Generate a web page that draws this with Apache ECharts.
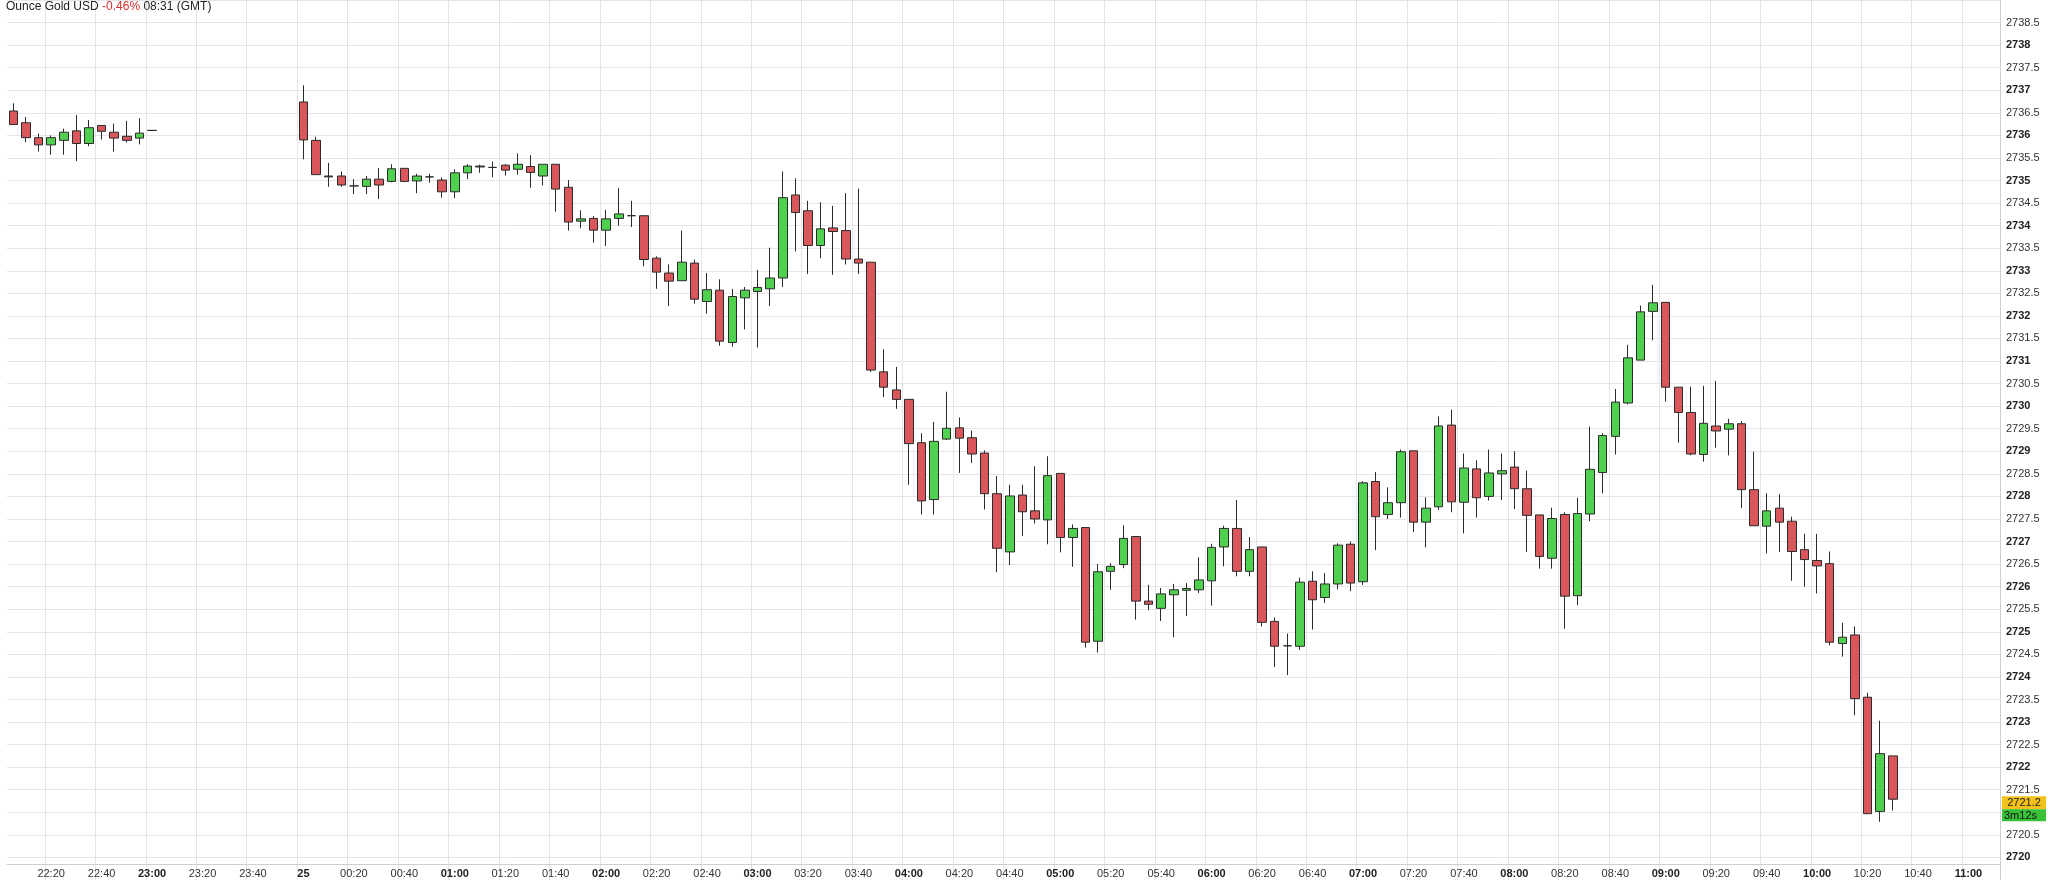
<!DOCTYPE html>
<html><head><meta charset="utf-8">
<script src="https://cdn.jsdelivr.net/npm/echarts@6/dist/echarts.min.js"></script>
<style>html,body{margin:0;padding:0;background:#fff}#c{width:2048px;height:880px}</style>
</head><body><div id="c"></div>
<script>
// categories: 5-minute slots from 22:05 to 11:10
const startMin = 22*60+5, slotCount = 158;
const categories = [];
for (let i=0;i<slotCount;i++){const m=(startMin+i*5)%1440;categories.push(String(Math.floor(m/60)).padStart(2,'0')+':'+String(m%60).padStart(2,'0'));}
const yTicksMin = 2719.5, yTicksMax = 2739, yTickStep = 0.5;
const lastPrice = 2721.2, countdown = '3m12s';

// session 1: 22:05 .. 23:00  [open, close, low, high]
const s1Start = '22:05';
const s1Open  = [2736.54,2736.28,2735.95,2735.79,2735.89,2736.10,2735.82,2736.22,2736.07,2735.98,2735.94,2736.11];
const s1Close = [2736.24,2735.95,2735.79,2735.95,2736.07,2735.82,2736.17,2736.09,2735.94,2735.89,2736.05,2736.11];
const s1Low   = [2736.24,2735.85,2735.64,2735.57,2735.57,2735.43,2735.76,2735.91,2735.64,2735.84,2735.80,2736.11];
const s1High  = [2736.71,2736.41,2736.04,2736.00,2736.15,2736.45,2736.34,2736.22,2736.26,2736.32,2736.38,2736.11];

// session 2: 00:00 .. 10:30
const s2Start = '00:00';
const s2Open = [2736.74,2735.89,2735.10,2735.10,2734.88,2734.87,2735.03,2734.98,2735.27,2734.99,2735.08,2735.01,2734.75,2735.17,2735.32,2735.29,2735.34,2735.25,2735.31,2735.10,
2735.36,2734.85,2734.10,2734.16,2733.90,2734.16,2734.22,2734.22,2733.28,2732.95,2732.78,2733.17,2732.32,2732.57,2731.41,2732.40,2732.54,2732.60,2732.84,2734.68,
2734.33,2733.56,2733.95,2733.89,2733.26,2733.19,2730.76,2730.36,2730.15,2729.19,2727.93,2729.27,2729.52,2729.30,2728.96,2728.06,2726.77,2728.03,2727.68,2727.48,
2728.51,2727.09,2727.31,2724.79,2726.34,2726.49,2727.11,2725.68,2725.52,2725.82,2725.92,2725.93,2726.13,2726.88,2727.29,2726.34,2726.88,2725.23,2724.69,2724.68,
2726.12,2725.76,2726.06,2726.94,2726.11,2728.33,2727.60,2727.86,2729.01,2727.43,2727.77,2729.58,2727.87,2728.61,2728.00,2728.50,2728.65,2728.17,2727.59,2726.63,
2727.60,2725.80,2727.61,2728.53,2729.33,2730.07,2731.02,2732.10,2732.30,2730.42,2729.86,2728.93,2729.56,2729.49,2729.61,2728.15,2727.34,2727.74,2727.45,2726.82,
2726.58,2726.51,2724.74,2724.93,2723.55,2721.02,2722.25];
const s2Close = [2735.90,2735.13,2735.08,2734.90,2734.88,2735.03,2734.90,2735.26,2734.98,2735.10,2735.08,2734.75,2735.17,2735.32,2735.30,2735.29,2735.23,2735.36,2735.18,2735.36,
2734.81,2734.08,2734.15,2733.90,2734.15,2734.26,2734.22,2733.25,2732.97,2732.77,2733.19,2732.37,2732.58,2731.44,2732.43,2732.57,2732.63,2732.84,2734.62,2734.29,
2733.56,2733.93,2733.87,2733.26,2733.17,2730.80,2730.42,2730.15,2729.17,2727.90,2729.22,2729.51,2729.29,2728.94,2728.06,2726.85,2728.01,2727.66,2727.50,2728.46,
2727.09,2727.29,2724.77,2726.33,2726.45,2727.07,2725.68,2725.61,2725.84,2725.93,2725.96,2726.15,2726.87,2727.29,2726.34,2726.82,2725.21,2724.68,2724.69,2726.10,
2725.71,2726.06,2726.92,2726.08,2728.30,2727.55,2727.86,2728.99,2727.43,2727.74,2729.56,2727.88,2728.63,2727.97,2728.52,2728.57,2728.17,2727.58,2726.67,2727.51,
2725.79,2727.62,2728.60,2729.35,2730.09,2731.07,2732.09,2732.29,2730.42,2729.86,2728.94,2729.62,2729.45,2729.61,2728.15,2727.35,2727.68,2727.43,2726.78,2726.60,
2726.46,2724.77,2724.88,2723.52,2720.97,2722.30,2721.29];
const s2Low = [2735.47,2735.13,2734.86,2734.86,2734.70,2734.70,2734.59,2734.96,2734.98,2734.72,2734.95,2734.62,2734.61,2735.03,2735.17,2735.07,2735.11,2735.13,2734.84,2734.89,
2734.31,2733.89,2733.94,2733.62,2733.55,2734.00,2733.97,2733.10,2732.60,2732.22,2732.78,2732.27,2732.05,2731.34,2731.32,2731.70,2731.30,2732.22,2732.64,2733.43,
2732.93,2733.28,2732.91,2733.14,2732.93,2730.76,2730.20,2729.94,2728.26,2727.60,2727.60,2729.25,2728.52,2728.74,2727.71,2726.32,2726.48,2727.12,2727.40,2726.94,
2726.76,2726.44,2724.65,2724.54,2725.93,2726.41,2725.27,2725.48,2725.24,2724.88,2725.35,2725.86,2725.58,2726.45,2726.23,2726.23,2725.12,2724.22,2724.04,2724.60,
2725.05,2725.64,2725.94,2725.90,2726.04,2726.81,2727.50,2727.53,2727.21,2726.87,2727.70,2727.65,2727.18,2727.53,2727.91,2727.92,2727.72,2726.77,2726.40,2726.40,
2725.07,2725.59,2727.45,2728.07,2728.93,2730.04,2731.02,2731.46,2730.10,2729.19,2728.91,2728.77,2729.08,2728.91,2727.74,2727.35,2726.74,2726.77,2726.13,2726.00,
2725.85,2724.70,2724.45,2723.15,2720.97,2720.79,2721.04];
const s2High = [2737.11,2735.97,2735.39,2735.20,2735.03,2735.10,2735.28,2735.36,2735.27,2735.15,2735.15,2735.07,2735.25,2735.36,2735.35,2735.42,2735.36,2735.60,2735.56,2735.36,
2735.36,2735.01,2734.34,2734.21,2734.35,2734.83,2734.55,2734.22,2733.32,2733.14,2733.89,2733.25,2732.95,2732.81,2732.60,2732.64,2733.02,2733.51,2735.20,2735.05,
2734.55,2734.52,2734.44,2734.72,2734.82,2733.19,2731.26,2730.87,2730.15,2729.40,2729.65,2730.32,2729.75,2729.46,2729.02,2728.45,2728.26,2728.26,2728.67,2728.89,
2728.51,2727.38,2727.31,2726.50,2726.52,2727.36,2727.11,2726.04,2725.97,2726.06,2726.08,2726.65,2726.95,2727.35,2727.92,2727.10,2726.88,2725.32,2724.96,2726.20,
2726.34,2726.30,2726.96,2727.00,2728.34,2728.54,2728.20,2729.04,2729.01,2727.98,2729.77,2729.92,2728.95,2728.80,2729.04,2728.95,2729.00,2728.57,2727.59,2727.75,
2727.65,2727.97,2729.55,2729.40,2730.38,2731.36,2732.23,2732.69,2732.30,2730.42,2730.43,2730.45,2730.56,2729.72,2729.67,2728.99,2728.07,2728.05,2727.55,2727.17,
2727.17,2726.78,2725.20,2725.12,2723.65,2723.03,2722.25];

const data = categories.map(()=>['-','-','-','-']);
function place(start,o,c,l,h){const k=categories.indexOf(start);for(let i=0;i<o.length;i++)data[k+i]=[o[i],c[i],l[i],h[i]];}
place(s1Start,s1Open,s1Close,s1Low,s1High);
place(s2Start,s2Open,s2Close,s2Low,s2High);

function showTick(idx){const v=categories[idx];return v.slice(3)==='00'||v.slice(3)==='20'||v.slice(3)==='40';}
const FONT='"Liberation Sans", Arial, sans-serif';
const chart = echarts.init(document.getElementById('c'));
chart.setOption({
  animation:false,
  backgroundColor:'#fff',
  grid:{left:7,right:48,top:-7,bottom:-8,show:false},
  xAxis:{type:'category',data:categories,boundaryGap:true,offset:-16,
    axisLine:{show:true,lineStyle:{color:'#cfcfcf'}},
    axisTick:{show:false},
    splitLine:{show:true,interval:(i)=>showTick(i),lineStyle:{color:'#e6e4e8',width:1}},
    axisLabel:{interval:(i)=>showTick(i),margin:4,fontFamily:FONT,fontSize:11,color:'#333',
      formatter:(v)=>{if(v==='00:00')return '{b|25}';if(v.slice(3)==='00')return '{b|'+v+'}';return v;},
      rich:{b:{fontWeight:'bold',fontFamily:FONT,fontSize:11,color:'#222'}}}},
  yAxis:{type:'value',position:'right',min:yTicksMin,max:yTicksMax,interval:yTickStep,scale:true,
    axisLine:{show:true,lineStyle:{color:'#cfcfcf'}},axisTick:{show:false},
    splitLine:{lineStyle:{color:'#e6e4e8'}},
    axisLabel:{margin:6,fontFamily:FONT,fontSize:11,color:'#333',
      formatter:(v)=>(v<=yTicksMin||v>=yTicksMax)?'':(Number.isInteger(v)?'{b|'+v+'}':String(v)),
      rich:{b:{fontWeight:'bold',fontFamily:FONT,fontSize:11,color:'#222'}}}},
  series:[{type:'candlestick',data:data,barWidth:9,
    itemStyle:{color:'#4fd14f',color0:'#d9575a',borderColor:'#2b2b2b',borderColor0:'#2b2b2b',borderWidth:1}}]
});
const py = chart.convertToPixel({yAxisIndex:0},lastPrice);
chart.setOption({graphic:[
  {type:'text',left:6,top:1,z:100,style:{rich:{a:{fill:'#222',fontSize:12,fontFamily:FONT},r:{fill:'#d32f2f',fontSize:12,fontFamily:FONT}},text:'{a|Ounce Gold USD }{r|-0.46%}{a| 08:31 (GMT)}'}},
  {type:'rect',z:100,shape:{x:2002,y:py-7,width:44,height:13},style:{fill:'#f2c21b'}},
  {type:'rect',z:100,shape:{x:2002,y:py+6,width:44,height:12},style:{fill:'#38c238'}},
  {type:'text',z:110,x:2024,y:py-6,style:{text:String(lastPrice),fill:'#222',fontSize:11,fontFamily:FONT,align:'center',verticalAlign:'top'}},
  {type:'text',z:110,x:2004,y:py+7,style:{text:countdown,fill:'#111',fontSize:11,fontFamily:FONT,align:'left',verticalAlign:'top'}}
]});
</script></body></html>
